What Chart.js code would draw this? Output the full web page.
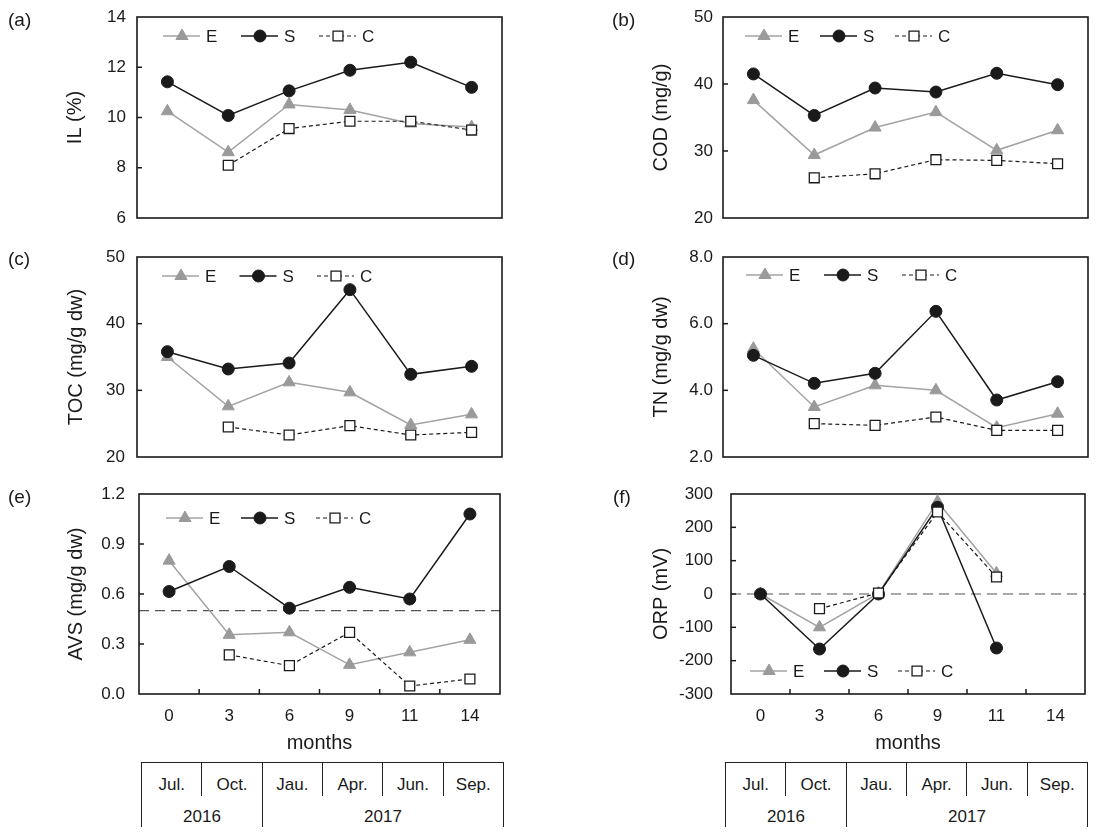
<!DOCTYPE html>
<html>
<head>
<meta charset="utf-8">
<script src="https://cdn.jsdelivr.net/npm/chart.js@4.4.1/dist/chart.umd.min.js"></script>
<style>
    html, body { margin: 0; padding: 0; background: #fff; }
    body { width: 1104px; height: 838px; position: relative; overflow: hidden; font-family: "Liberation Sans", Arial, sans-serif; color: #1a1a1a; }
    canvas { position: absolute; }
    .tbl { position: absolute; box-sizing: border-box; border: 1.6px solid #222; border-bottom: none; font-size: 17px; }
    .tbl .row { display: flex; }
    .tbl .cell { flex: 1 1 0; box-sizing: border-box; text-align: center; line-height: 20px; }
    .tbl .months .cell { height: 33px; padding-top: 12px; }
    .tbl .years .cell { height: 31px; padding-top: 11px; }
    .tbl .sep { border-left: 1.6px solid #222; }
</style>
</head>
<body>
<canvas id="chart-a"></canvas>
<canvas id="chart-b"></canvas>
<canvas id="chart-c"></canvas>
<canvas id="chart-d"></canvas>
<canvas id="chart-e"></canvas>
<canvas id="chart-f"></canvas>
<div class="tbl" id="table-e"></div>
<div class="tbl" id="table-f"></div>
<script>
const months = ["0", "3", "6", "9", "11", "14"];
const tableMonths = ["Jul.", "Oct.", "Jau.", "Apr.", "Jun.", "Sep."];
const tableYears = ["2016", "2017"];
const yearSpans = [2, 4];

// IL (%)
const ilE = [10.25, 8.62, 10.52, 10.3, 9.76, 9.62];
const ilS = [11.42, 10.08, 11.06, 11.88, 12.2, 11.2];
const ilC = [null, 8.1, 9.56, 9.85, 9.85, 9.5];
const ilTicks = [6, 8, 10, 12, 14];

// COD (mg/g)
const codE = [37.6, 29.4, 33.5, 35.8, 30.1, 33.1];
const codS = [41.5, 35.3, 39.4, 38.8, 41.6, 39.9];
const codC = [null, 26.0, 26.6, 28.7, 28.6, 28.1];
const codTicks = [20, 30, 40, 50];

// TOC (mg/g dw)
const tocE = [35.0, 27.6, 31.2, 29.7, 24.8, 26.4];
const tocS = [35.8, 33.2, 34.1, 45.1, 32.4, 33.6];
const tocC = [null, 24.5, 23.3, 24.7, 23.3, 23.7];
const tocTicks = [20, 30, 40, 50];

// TN (mg/g dw)
const tnE = [5.25, 3.5, 4.15, 4.0, 2.88, 3.3];
const tnS = [5.05, 4.21, 4.51, 6.37, 3.71, 4.26];
const tnC = [null, 3.0, 2.95, 3.2, 2.8, 2.8];
const tnTicks = [2, 4, 6, 8];

// AVS (mg/g dw)
const avsE = [0.8, 0.355, 0.37, 0.175, 0.25, 0.325];
const avsS = [0.615, 0.765, 0.515, 0.64, 0.57, 1.08];
const avsC = [null, 0.235, 0.17, 0.37, 0.048, 0.09];
const avsTicks = [0, 0.3, 0.6, 0.9, 1.2];
const avsRef = 0.5;

// ORP (mV)
const orpE = [0, -100, 2, 277, 62, null];
const orpS = [0, -165, 0, 260, -162, null];
const orpC = [null, -44, 3, 246, 51, null];
const orpTicks = [-300, -200, -100, 0, 100, 200, 300];
const orpRef = 0;

const ink = "#1a1a1a";
const grey = "#9a9a9a";
const font = "'Liberation Sans', Arial, sans-serif";

// canvas box [x, y, w, h], plot box [left, top, right, bottom]
// legend: [first line offset, entry step, distance from top (or bottom if negative)]
const panels = [
    { key: "a", title: "IL (%)", e: ilE, s: ilS, c: ilC, ticks: ilTicks, dec: 0,
      canvas: [0, 0, 552, 238], plot: [137, 17, 502, 218], axisW: 74, labelPad: 11,
      tag: [8, 21], legend: [26, 78, 19] },
    { key: "b", title: "COD (mg/g)", e: codE, s: codS, c: codC, ticks: codTicks, dec: 0,
      canvas: [552, 0, 552, 238], plot: [723, 17, 1088, 218], axisW: 74, labelPad: 10,
      tag: [612, 21], legend: [22, 75, 19] },
    { key: "c", title: "TOC (mg/g dw)", e: tocE, s: tocS, c: tocC, ticks: tocTicks, dec: 0,
      canvas: [0, 238, 552, 238], plot: [137, 257, 502, 457], axisW: 73, labelPad: 12,
      tag: [8, 260], legend: [25, 77.5, 19] },
    { key: "d", title: "TN (mg/g dw)", e: tnE, s: tnS, c: tnC, ticks: tnTicks, dec: 1,
      canvas: [552, 238, 552, 238], plot: [723, 257, 1088, 457], axisW: 74, labelPad: 10,
      tag: [612, 260], legend: [23, 78, 18] },
    { key: "e", title: "AVS (mg/g dw)", e: avsE, s: avsS, c: avsC, ticks: avsTicks, dec: 1, ref: avsRef, months: true,
      canvas: [0, 476, 552, 286], plot: [139, 494, 500, 694], axisW: 75, labelPad: 14,
      tag: [8, 498], legend: [27, 75, 24] },
    { key: "f", title: "ORP (mV)", e: orpE, s: orpS, c: orpC, ticks: orpTicks, dec: 0, ref: orpRef, months: true,
      canvas: [552, 476, 552, 286], plot: [731, 494, 1085, 694], axisW: 82, labelPad: 18,
      tag: [613, 498], legend: [19, 74, -23] }
];

const xAxisH = 61;

const framePlugin = {
    id: "frame",
    beforeDatasetsDraw(chart, args, opts) {
        const { ctx, chartArea: a } = chart;
        ctx.save();
        if (opts.ref !== undefined) {
            const y = chart.scales.y.getPixelForValue(opts.ref);
            ctx.strokeStyle = "#555";
            ctx.lineWidth = 1.2;
            ctx.setLineDash([10, 6]);
            ctx.beginPath();
            ctx.moveTo(a.left, y);
            ctx.lineTo(a.right, y);
            ctx.stroke();
            ctx.setLineDash([]);
        }
        ctx.strokeStyle = ink;
        ctx.lineWidth = 1.5;
        // inward tick marks on the y axis
        const ys = chart.scales.y;
        ys.ticks.forEach((t, i) => {
            if (i === 0 || i === ys.ticks.length - 1) {
                return;
            }
            const py = ys.getPixelForValue(t.value);
            ctx.beginPath();
            ctx.moveTo(a.left, py);
            ctx.lineTo(a.left + 5, py);
            ctx.stroke();
        });
        // inward tick marks between months
        if (opts.innerTicks) {
            const xs = chart.scales.x;
            for (let i = 1; i < months.length; i++) {
                const px = (xs.getPixelForValue(i - 1) + xs.getPixelForValue(i)) / 2;
                ctx.beginPath();
                ctx.moveTo(px, a.bottom);
                ctx.lineTo(px, a.bottom - 5);
                ctx.stroke();
            }
        }
        ctx.lineWidth = 1.6;
        ctx.strokeRect(a.left, a.top, a.right - a.left, a.bottom - a.top);
        ctx.restore();
    },
    afterDraw(chart, args, opts) {
        const { ctx, chartArea: a } = chart;
        ctx.save();
        ctx.fillStyle = ink;
        ctx.font = "19px " + font;
        ctx.textBaseline = "middle";
        ctx.fillText(opts.tag, opts.tagX, opts.tagY);

        // line-with-marker legend
        const [start, step, dy] = opts.legend;
        const y = dy < 0 ? a.bottom + dy : a.top + dy;
        chart.data.datasets.forEach((ds, i) => {
            const x0 = a.left + start + i * step;
            ctx.strokeStyle = ds.borderColor;
            ctx.lineWidth = ds.borderWidth;
            ctx.setLineDash(ds.borderDash || []);
            ctx.beginPath();
            ctx.moveTo(x0, y);
            ctx.lineTo(x0 + 37, y);
            ctx.stroke();
            ctx.setLineDash([]);
            ctx.fillStyle = ds.pointBackgroundColor;
            ctx.strokeStyle = ds.pointBorderColor;
            ctx.lineWidth = ds.pointBorderWidth;
            Chart.helpers.drawPoint(ctx, {
                pointStyle: ds.pointStyle,
                radius: ds.pointRadius,
                rotation: 0,
                borderWidth: ds.pointBorderWidth
            }, x0 + 19, y);
            ctx.fillStyle = ink;
            ctx.font = "17px " + font;
            ctx.fillText(ds.label, x0 + 43, y + 1);
        });
        ctx.restore();
    }
};

const initPanel = (p) => {
    const canvas = document.getElementById("chart-" + p.key);
    const [cx, cy, cw, ch] = p.canvas;
    const [pl, pt, pr, pb] = p.plot;
    canvas.width = cw;
    canvas.height = ch;
    canvas.style.left = cx + "px";
    canvas.style.top = cy + "px";
    canvas.style.width = cw + "px";
    canvas.style.height = ch + "px";

    const ticks = p.ticks;
    const xHeight = p.months ? xAxisH : 0;
    new Chart(canvas, {
        type: "line",
        data: {
            labels: months,
            datasets: [
                {
                    label: "E", data: p.e, order: 3,
                    borderColor: "#a3a3a3", borderWidth: 1.5,
                    pointStyle: "triangle", pointRadius: 7, pointBorderWidth: 1,
                    pointBackgroundColor: grey, pointBorderColor: grey
                },
                {
                    label: "S", data: p.s, order: 2,
                    borderColor: ink, borderWidth: 1.5,
                    pointStyle: "circle", pointRadius: 6, pointBorderWidth: 1,
                    pointBackgroundColor: ink, pointBorderColor: ink
                },
                {
                    label: "C", data: p.c, order: 1,
                    borderColor: ink, borderWidth: 1.2, borderDash: [4, 3],
                    pointStyle: "rect", pointRadius: 7, pointBorderWidth: 1.3,
                    pointBackgroundColor: "#fff", pointBorderColor: ink
                }
            ]
        },
        options: {
            responsive: false,
            animation: false,
            events: [],
            layout: {
                padding: {
                    left: pl - p.axisW - cx,
                    top: pt - cy,
                    right: cx + cw - pr,
                    bottom: cy + ch - pb - xHeight
                }
            },
            scales: {
                x: {
                    type: "category",
                    offset: true,
                    display: !!p.months,
                    grid: { display: false, drawTicks: false },
                    border: { display: false },
                    ticks: { color: ink, padding: 12, font: { family: font, size: 17 } },
                    title: {
                        display: true, text: "months", color: ink,
                        padding: 0, font: { family: font, size: 20 }
                    },
                    afterFit: (scale) => {
                        scale.height = xHeight;
                        scale.paddingLeft = 0;
                        scale.paddingRight = 0;
                    }
                },
                y: {
                    min: ticks[0],
                    max: ticks[ticks.length - 1],
                    border: { display: false },
                    grid: { display: false, drawTicks: false },
                    ticks: {
                        stepSize: ticks[1] - ticks[0],
                        color: ink,
                        padding: p.labelPad,
                        font: { family: font, size: 17 },
                        callback: (v) => Number(v).toFixed(p.dec)
                    },
                    title: {
                        display: true, text: p.title, color: ink,
                        padding: 0, font: { family: font, size: 20 }
                    },
                    afterFit: (scale) => {
                        scale.width = p.axisW;
                        scale.paddingTop = 0;
                        scale.paddingBottom = 0;
                    }
                }
            },
            plugins: {
                legend: { display: false },
                tooltip: { enabled: false },
                frame: {
                    ref: p.ref,
                    innerTicks: !!p.months,
                    legend: p.legend,
                    tag: "(" + p.key + ")",
                    tagX: p.tag[0] - cx,
                    tagY: p.tag[1] - cy
                }
            }
        },
        plugins: [framePlugin]
    });
};

const buildTable = (el, box) => {
    el.style.left = box[0] + "px";
    el.style.top = box[1] + "px";
    el.style.width = box[2] + "px";
    const monthRow = document.createElement("div");
    monthRow.className = "row months";
    tableMonths.forEach((m, i) => {
        const cell = document.createElement("div");
        cell.className = "cell" + (i ? " sep" : "");
        cell.textContent = m;
        monthRow.appendChild(cell);
    });
    const yearRow = document.createElement("div");
    yearRow.className = "row years";
    tableYears.forEach((yr, i) => {
        const cell = document.createElement("div");
        cell.className = "cell" + (i ? " sep" : "");
        cell.style.flex = yearSpans[i] + " 1 0";
        cell.textContent = yr;
        yearRow.appendChild(cell);
    });
    el.appendChild(monthRow);
    el.appendChild(yearRow);
};

panels.forEach(initPanel);
buildTable(document.getElementById("table-e"), [141, 762, 363]);
buildTable(document.getElementById("table-f"), [725, 762, 363]);
</script>
</body>
</html>
